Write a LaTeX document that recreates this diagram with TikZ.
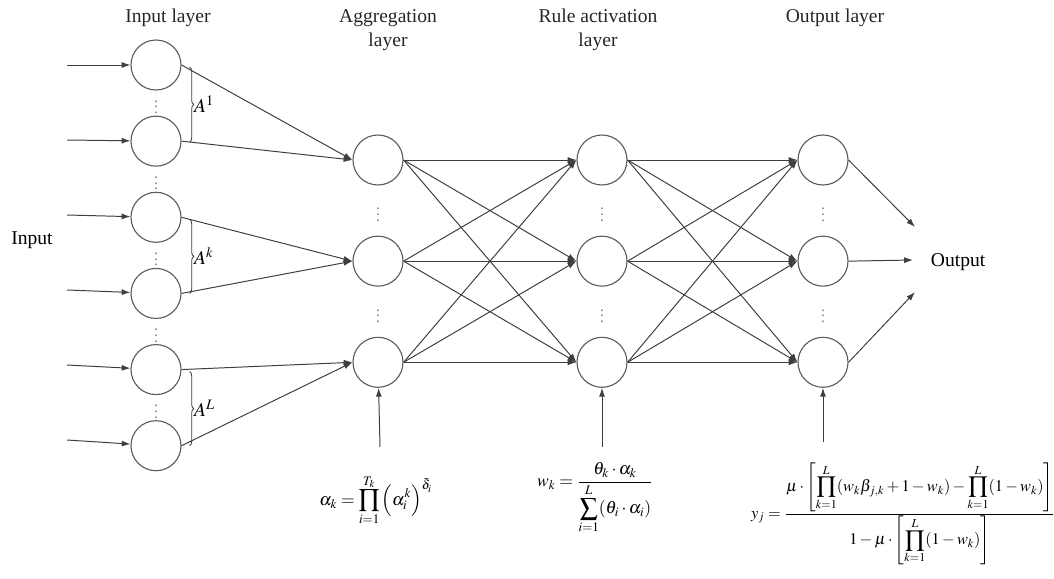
\documentclass[tikz,border=0pt]{standalone}
\usepackage{mathptmx}
\usepackage[no-math]{fontspec}
\setmainfont{Liberation Serif}
\usetikzlibrary{arrows.meta,positioning,calc,decorations.pathreplacing}
\definecolor{netgray}{RGB}{62,62,62}
\definecolor{ringgray}{RGB}{92,92,92}

\begin{document}
\begin{tikzpicture}[
        x=0.025cm, y=-0.025cm,
        font=\fontsize{13.9}{17}\selectfont,
        neuron/.style={draw=ringgray, circle, line width=0.8pt, minimum size=1.25cm, inner sep=0pt},
        dotsnode/.style={text=gray, inner sep=0pt, font=\fontsize{11}{11}\selectfont},
        title/.style={align=center, text=black!85},
        arr/.style={-{Latex[length=2.2mm,width=1.5mm]}, draw=netgray, line width=0.7pt},
        grp/.style={draw=netgray, line width=0.6pt, decorate, decoration={brace, amplitude=3pt}},
        formula/.style={inner sep=0pt, font=\fontsize{12.5}{15}\selectfont}
    ]
    \useasboundingbox (0,0) rectangle (1054,579);

    % titles
    \node[title] (tin) at (168,18) {Input layer};
    \node[title] (tag) at (388,30) {Aggregation\\layer};
    \node[title] (tru) at (598,30) {Rule activation\\layer};
    \node[title] (tout) at (835,18) {Output layer};

    % input layer
    \node[neuron] (in1) at (156,65) {};
    \node[neuron, below=0.625cm of in1] (in2) {};
    \node[neuron, below=0.625cm of in2] (in3) {};
    \node[neuron, below=0.625cm of in3] (in4) {};
    \node[neuron, below=0.625cm of in4] (in5) {};
    \node[neuron, below=0.625cm of in5] (in6) {};

    % aggregation, rule activation and output layers
    \node[neuron] (ag1) at (378,160) {};
    \node[neuron, below=1.25cm of ag1] (ag2) {};
    \node[neuron, below=1.25cm of ag2] (ag3) {};
    \node[neuron] (ru1) at (602,160) {};
    \node[neuron, below=1.25cm of ru1] (ru2) {};
    \node[neuron, below=1.25cm of ru2] (ru3) {};
    \node[neuron] (out1) at (823,160) {};
    \node[neuron, below=1.25cm of out1] (out2) {};
    \node[neuron, below=1.25cm of out2] (out3) {};

    % dots
    \node[dotsnode] (din12) at ($(in1)!0.5!(in2)$) {$\vdots$};
    \node[dotsnode] (din23) at ($(in2)!0.5!(in3)$) {$\vdots$};
    \node[dotsnode] (din34) at ($(in3)!0.5!(in4)$) {$\vdots$};
    \node[dotsnode] (din45) at ($(in4)!0.5!(in5)$) {$\vdots$};
    \node[dotsnode] (din56) at ($(in5)!0.5!(in6)$) {$\vdots$};
    \node[dotsnode] (dag12) at ($(ag1)!0.5!(ag2)$) {$\vdots$};
    \node[dotsnode] (dag23) at ($(ag2)!0.5!(ag3)$) {$\vdots$};
    \node[dotsnode] (dru12) at ($(ru1)!0.5!(ru2)$) {$\vdots$};
    \node[dotsnode] (dru23) at ($(ru2)!0.5!(ru3)$) {$\vdots$};
    \node[dotsnode] (dout12) at ($(out1)!0.5!(out2)$) {$\vdots$};
    \node[dotsnode] (dout23) at ($(out2)!0.5!(out3)$) {$\vdots$};

    % side labels
    \node (input) at (32,240) {Input};
    \node[right] (output) at (926,262) {Output};

    % inputs
    \coordinate (s1) at (67,65);
    \coordinate (s2) at (67,140);
    \coordinate (s3) at (67,215);
    \coordinate (s4) at (67,290);
    \coordinate (s5) at (67,365);
    \coordinate (s6) at (67,440);
    \draw[arr] (s1) -- (in1);
    \draw[arr] (s2) -- (in2);
    \draw[arr] (s3) -- (in3);
    \draw[arr] (s4) -- (in4);
    \draw[arr] (s5) -- (in5);
    \draw[arr] (s6) -- (in6);

    % attribute groups
    \draw[grp] ($(in1.east)+(8,2)$) -- ($(in2.east)+(8,1)$) node[midway, right=3pt, inner sep=0pt] (a1) {$A^1$};
    \draw[grp] ($(in3.east)+(8,2)$) -- ($(in4.east)+(8,0)$) node[midway, right=3pt, inner sep=0pt] (ak) {$A^k$};
    \draw[grp] ($(in5.east)+(8,2)$) -- ($(in6.east)+(8,0)$) node[midway, right=3pt, inner sep=0pt] (aL) {$A^L$};

    % input -> aggregation
    \draw[arr] (in1.east) -- (ag1.west);
    \draw[arr] (in2.east) -- (ag1.west);
    \draw[arr] (in3.east) -- (ag2.west);
    \draw[arr] (in4.east) -- (ag2.west);
    \draw[arr] (in5.east) -- (ag3.west);
    \draw[arr] (in6.east) -- (ag3.west);

    % aggregation -> rule activation
    \draw[arr] (ag1.east) -- (ru1.west);
    \draw[arr] (ag1.east) -- (ru2.west);
    \draw[arr] (ag1.east) -- (ru3.west);
    \draw[arr] (ag2.east) -- (ru1.west);
    \draw[arr] (ag2.east) -- (ru2.west);
    \draw[arr] (ag2.east) -- (ru3.west);
    \draw[arr] (ag3.east) -- (ru1.west);
    \draw[arr] (ag3.east) -- (ru2.west);
    \draw[arr] (ag3.east) -- (ru3.west);

    % rule activation -> output
    \draw[arr] (ru1.east) -- (out1.west);
    \draw[arr] (ru1.east) -- (out2.west);
    \draw[arr] (ru1.east) -- (out3.west);
    \draw[arr] (ru2.east) -- (out1.west);
    \draw[arr] (ru2.east) -- (out2.west);
    \draw[arr] (ru2.east) -- (out3.west);
    \draw[arr] (ru3.east) -- (out1.west);
    \draw[arr] (ru3.east) -- (out2.west);
    \draw[arr] (ru3.east) -- (out3.west);

    % outputs
    \coordinate (o1) at (915,227);
    \coordinate (o2) at (913,260);
    \coordinate (o3) at (915,292);
    \draw[arr] (out1.east) -- (o1);
    \draw[arr] (out2.east) -- (o2);
    \draw[arr] (out3.east) -- (o3);

    % formulas
    \node[formula] (fa) at (376,500) {$\displaystyle \alpha_k=\prod_{i=1}^{T_k}\left(\alpha_i^{k}\right)^{\bar{\delta}_i}$};
    \node[formula] (fw) at (595,498) {$\displaystyle w_k=\frac{\theta_k\cdot\alpha_k}{\displaystyle\sum_{i=1}^{L}(\theta_i\cdot\alpha_i)}$};
    \node[formula, font=\fontsize{11.6}{14}\selectfont] (fy) at (903,514) {$\displaystyle y_j=\frac{\mu\cdot\left[\displaystyle\prod_{k=1}^{L}(w_k\beta_{j,k}+1-w_k)-\prod_{k=1}^{L}(1-w_k)\right]}{1-\mu\cdot\left[\displaystyle\prod_{k=1}^{L}(1-w_k)\right]}$};

    \coordinate (b1) at (380,447);
    \coordinate (b2) at (602,447);
    \coordinate (b3) at (823,442);
    \draw[arr] (b1) -- (ag3);
    \draw[arr] (b2) -- (ru3);
    \draw[arr] (b3) -- (out3);
\end{tikzpicture}
\end{document}
